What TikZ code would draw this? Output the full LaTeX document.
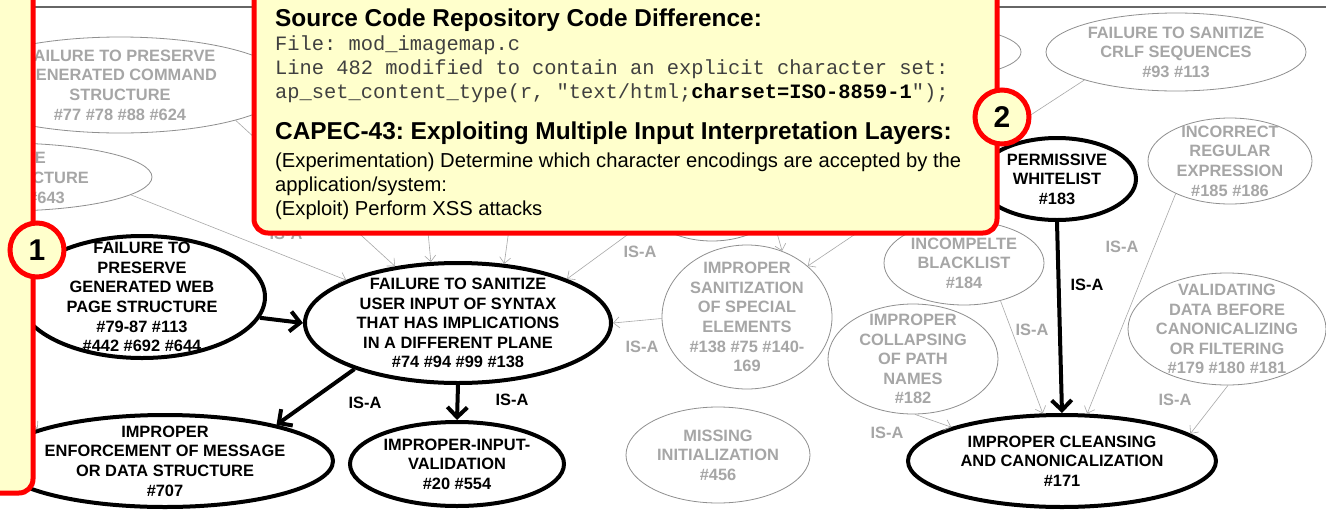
\documentclass[tikz,border=0pt]{standalone}
\usepackage{fontspec}
\setmainfont{Liberation Sans}
\setmonofont{Liberation Mono}
\usetikzlibrary{shapes.geometric,arrows.meta}
\frenchspacing

\definecolor{cyellow}{HTML}{FFFFCC}
\definecolor{cred}{HTML}{FF0000}
\definecolor{gtext}{HTML}{A6A6A6}
\definecolor{gline}{HTML}{8F8F8F}
\definecolor{gedge}{HTML}{A8A8A8}
\definecolor{mono}{HTML}{404040}

\tikzset{
 nfont/.style={font=\fontsize{16.4}{19.6}\selectfont\bfseries},
 ltext/.style={nfont, align=center, inner sep=0pt},
 blacknode/.style={ellipse, draw=black, line width=4pt, fill=white, inner sep=0pt},
 graynode/.style={ellipse, draw=gline, line width=0.8pt, fill=white, inner sep=0pt},
 grayedge/.style={draw=gedge, line width=0.6pt, -{Straight Barb[length=6pt,width=11pt]}},
 blackedge/.style={draw=black, line width=4pt, -{Straight Barb[length=10pt,width=20pt]}},
 glabel/.style={text=gtext, nfont, inner sep=0pt},
 blabel/.style={text=black, nfont, inner sep=0pt},
 callout/.style={draw=cred, line width=5pt, fill=cyellow, rounded corners=14pt},
 badge/.style={circle, draw=cred, line width=5pt, fill=cyellow, minimum size=54pt, inner sep=0pt, font=\fontsize{30}{30}\selectfont\bfseries},
 head/.style={anchor=base west, inner sep=0pt, font=\fontsize{24.4}{24}\selectfont\bfseries},
 code/.style={anchor=base west, inner sep=0pt, text=mono, font=\fontsize{20.4}{20}\selectfont\ttfamily},
 body/.style={anchor=base west, inner sep=0pt, font=\fontsize{20.2}{20}\selectfont},
}

\begin{document}
\begin{tikzpicture}[x=1pt,y=-1pt]
\useasboundingbox (0,0) rectangle (1326,512);
\fill[white] (0,0) rectangle (1326,512);
\draw[color=black!60, line width=1.4pt] (33,7) -- (1326,7);

% gray (context) nodes
\node[graynode, minimum width=338pt, minimum height=96pt,
  label={[ltext, text=gtext]center:FAILURE TO PRESERVE\\GENERATED COMMAND\\STRUCTURE\\\#77 \#78 \#88 \#624}] (pcmd) at (120,85) {};
\node[graynode, minimum width=296pt, minimum height=68pt] (pquery) at (4,177) {};
\node[glabel, anchor=east] (pq1) at (46,158) {VE};
\node[glabel, anchor=east] (pq2) at (89,178) {CTURE};
\node[glabel, anchor=east] (pq3) at (65,198) {\#643};
\node[graynode, minimum width=180pt, minimum height=52pt] (hidA) at (931,52) {};
\node[graynode, minimum width=150pt, minimum height=102pt] (hidB) at (712,190) {};
\node[graynode, minimum width=260pt, minimum height=78pt,
  label={[ltext, text=gtext]center:FAILURE TO SANITIZE\\CRLF SEQUENCES\\\#93 \#113}] (crlf) at (1176,52) {};
\node[graynode, minimum width=164pt, minimum height=86pt,
  label={[ltext, text=gtext]center:INCORRECT\\REGULAR\\EXPRESSION\\\#185 \#186}] (regex) at (1230,161) {};
\node[graynode, minimum width=160pt, minimum height=84pt,
  label={[ltext, text=gtext]center:INCOMPELTE\\BLACKLIST\\\#184}] (blist) at (964,263) {};
\node[graynode, minimum width=170pt, minimum height=110pt,
  label={[ltext, text=gtext]center:IMPROPER\\COLLAPSING\\OF PATH\\NAMES\\\#182}] (collapse) at (913,359) {};
\node[graynode, minimum width=198pt, minimum height=112pt,
  label={[ltext, text=gtext]center:VALIDATING\\DATA BEFORE\\CANONICALIZING\\OR FILTERING\\\#179 \#180 \#181}] (valid) at (1227,329) {};
\node[graynode, minimum width=170pt, minimum height=144pt,
  label={[ltext, text=gtext]center:IMPROPER\\SANITIZATION\\OF SPECIAL\\ELEMENTS\\\#138 \#75 \#140-\\169}] (special) at (747,317) {};
\node[graynode, minimum width=184pt, minimum height=96pt,
  label={[ltext, text=gtext]center:MISSING\\INITIALIZATION\\\#456}] (missing) at (718,455) {};

% black (main) nodes
\node[blacknode, minimum width=246pt, minimum height=122pt,
  label={[ltext]center:FAILURE TO\\PRESERVE\\GENERATED WEB\\PAGE STRUCTURE\\\#79-87 \#113\\\#442 \#692 \#644}] (web) at (142,297) {};
\node[blacknode, minimum width=306pt, minimum height=120pt,
  label={[ltext]center:FAILURE TO SANITIZE\\USER INPUT OF SYNTAX\\THAT HAS IMPLICATIONS\\IN A DIFFERENT PLANE\\\#74 \#94 \#99 \#138}] (central) at (458,323) {};
\node[blacknode, minimum width=336pt, minimum height=92pt,
  label={[ltext]center:IMPROPER\\ENFORCEMENT OF MESSAGE\\OR DATA STRUCTURE\\\#707}] (enforce) at (165,461) {};
\node[blacknode, minimum width=214pt, minimum height=84pt,
  label={[ltext]center:IMPROPER-INPUT-\\VALIDATION\\\#20 \#554}] (inval) at (457,464) {};
\node[blacknode, minimum width=158pt, minimum height=82pt,
  label={[ltext]center:PERMISSIVE\\WHITELIST\\\#183}] (permit) at (1057,179) {};
\node[blacknode, minimum width=308pt, minimum height=92pt,
  label={[ltext]center:IMPROPER CLEANSING\\AND CANONICALIZATION\\\#171}] (cleanse) at (1062,461) {};

% hidden ends
\coordinate (h1) at (425,200);
\coordinate (h2) at (513,200);
\coordinate (h3) at (690,189);
\coordinate (h5) at (900,204);
\coordinate (h8) at (960,161);
\coordinate (h9) at (-10,370);

% gray connectors
\draw[grayedge] (pquery.-8) -- (central.159);
\draw[grayedge] (pcmd.-17) -- (central.138);
\draw[grayedge] (h1) -- (central.114);
\draw[grayedge] (h2) -- (central.52);
\draw[grayedge] (h3) -- (central.22);
\draw[grayedge] (special.181) -- (central.0);
\draw[grayedge] (hidB.-26) -- (special.62);
\draw[grayedge] (h5) -- (special.40);
\draw[grayedge] (crlf.197) -- (h8);
\draw[grayedge] (blist.-46) -- (cleanse.112);
\draw[grayedge] (regex.211) -- (cleanse.62);
\draw[grayedge] (collapse.-88) -- (cleanse.163);
\draw[grayedge] (valid.-89) -- (cleanse.12);
\draw[grayedge] (h9) -- (enforce.166);

% black connectors
\draw[blackedge] (web.-10) -- (central.180);
\draw[blackedge] (central.204) -- (enforce.18);
\draw[blackedge] (central.south) -- (inval.north);
\draw[blackedge] (permit.south) -- (cleanse.north);

% labels
\node[glabel] (l1) at (286,234) {IS-A};
\node[glabel] (l2) at (640,252) {IS-A};
\node[glabel] (l3) at (642,347) {IS-A};
\node[glabel] (l4) at (1122,247) {IS-A};
\node[glabel] (l5) at (1032,330) {IS-A};
\node[glabel] (l6) at (887,433) {IS-A};
\node[glabel] (l7) at (1175,400) {IS-A};
\node[blabel] (l8) at (365,403) {IS-A};
\node[blabel] (l9) at (512,400) {IS-A};
\node[blabel] (l10) at (1087,285) {IS-A};

% callouts
\draw[callout] (-30,-30) rectangle (33,493);
\draw[callout] (254,-30) rectangle (997,233);
\node[head] (t1) at (275,26) {Source Code Repository Code Difference:};
\node[code] (t2) at (275,50) {File: mod\_imagemap.c};
\node[code] (t3) at (275,74) {Line 482 modified to contain an explicit character set:};
\node[code] (t4) at (275,98) {ap\_set\_content\_type(r, "text/html;\textcolor{black}{\bfseries charset=ISO-8859-1}");};
\node[head] (t5) at (275,139) {CAPEC-43: Exploiting Multiple Input Interpretation Layers:};
\node[body] (t6) at (275,167) {(Experimentation) Determine which character encodings are accepted by the};
\node[body] (t7) at (275,191) {application/system:};
\node[body] (t8) at (275,215) {(Exploit) Perform XSS attacks};

\node[badge] (one) at (37,250) {1};
\node[badge] (two) at (1002,117) {2};
\end{tikzpicture}
\end{document}
